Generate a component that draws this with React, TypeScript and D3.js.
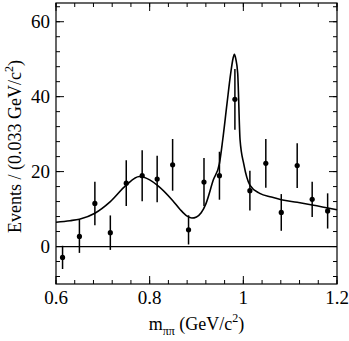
import React from 'react'
import { scaleLinear, line, curveMonotoneX, range } from 'd3'

// binned m(pi pi) spectrum
const mass = [0.614, 0.65, 0.683, 0.716, 0.75, 0.784, 0.816, 0.849, 0.883, 0.916, 0.949, 0.982, 1.014, 1.048, 1.081, 1.115, 1.147, 1.18]
const counts = [-2.9, 2.7, 11.5, 3.7, 16.9, 18.9, 18.0, 21.8, 4.45, 17.2, 18.9, 39.3, 14.9, 22.2, 9.1, 21.6, 12.6, 9.5]
const errors = [3.1, 4.4, 5.8, 4.6, 6.1, 6.8, 6.2, 6.9, 3.9, 6.4, 6.4, 8.1, 5.3, 6.5, 4.9, 6.0, 4.7, 4.7]

// fit curve
const fitMass = [0.6, 0.63, 0.65, 0.683, 0.716, 0.75, 0.778, 0.8, 0.816, 0.849, 0.865, 0.88, 0.89, 0.9, 0.91, 0.92, 0.936, 0.949, 0.956, 0.965, 0.973, 0.978, 0.981, 0.984, 0.988, 0.993, 1.001, 1.014, 1.035, 1.06, 1.081, 1.115, 1.147, 1.2]
const fitValue = [6.5, 6.9, 7.3, 8.9, 12, 16.4, 18.7, 17.8, 16.4, 12.3, 9.9, 8.1, 7.6, 7.9, 9.0, 11.4, 17.8, 22.2, 28.5, 38, 46.2, 50.2, 51.3, 50.0, 46.2, 28.5, 22.0, 16.4, 14.2, 13.2, 12.5, 11.8, 11.1, 9.8]

const xMajor = [0.6, 0.8, 1.0, 1.2]
const xLabels = ['0.6', '0.8', '1', '1.2']
const yMajor = [0, 20, 40, 60]

const W = 349
const H = 341
const left = 56
const right = 337
const top = 3
const bottom = 284
const font = '"Liberation Serif", "DejaVu Serif", serif'

const App = () => {
  const x = scaleLinear().domain([0.6, 1.2]).range([left, right])
  const y = scaleLinear().domain([-10, 65]).range([bottom, top])

  const xMinor = range(0, 16).map(i => 0.6 + i * 0.04)
  const yMinor = range(-8, 65, 4)

  const fitPath = line<number>()
    .x((d, i) => x(fitMass[i]))
    .y(d => y(d))
    .curve(curveMonotoneX)(fitValue)

  return (
    <svg width={W} height={H} style={{ position: 'absolute', left: 0, top: 0, background: '#fff' }}>
      {/* ticks */}
      <g stroke="#000" strokeWidth={1}>
        {xMinor.map(v => (
          <g key={'xm' + v}>
            <line x1={x(v)} x2={x(v)} y1={bottom} y2={bottom - 4} />
            <line x1={x(v)} x2={x(v)} y1={top} y2={top + 4} />
          </g>
        ))}
        {xMajor.map(v => (
          <g key={'xM' + v}>
            <line x1={x(v)} x2={x(v)} y1={bottom} y2={bottom - 8} />
            <line x1={x(v)} x2={x(v)} y1={top} y2={top + 8} />
          </g>
        ))}
        {yMinor.map(v => (
          <g key={'ym' + v}>
            <line x1={left} x2={left + 4} y1={y(v)} y2={y(v)} />
            <line x1={right} x2={right - 4} y1={y(v)} y2={y(v)} />
          </g>
        ))}
        {yMajor.map(v => (
          <g key={'yM' + v}>
            <line x1={left} x2={left + 8} y1={y(v)} y2={y(v)} />
            <line x1={right} x2={right - 8} y1={y(v)} y2={y(v)} />
          </g>
        ))}
      </g>

      {/* zero line */}
      <line x1={left} x2={right} y1={y(0)} y2={y(0)} stroke="#000" strokeWidth={1.3} />

      {/* fit */}
      <path d={fitPath || ''} fill="none" stroke="#000" strokeWidth={1.6} />

      {/* data */}
      <g>
        {mass.map((m, i) => (
          <g key={'p' + i}>
            <line
              x1={x(m)}
              x2={x(m)}
              y1={y(counts[i] - errors[i])}
              y2={y(counts[i] + errors[i])}
              stroke="#000"
              strokeWidth={1.5}
            />
            <circle cx={x(m)} cy={y(counts[i])} r={2.6} fill="#000" />
          </g>
        ))}
      </g>

      {/* frame */}
      <rect x={left} y={top} width={right - left} height={bottom - top} fill="none" stroke="#000" strokeWidth={1.2} />

      {/* tick labels */}
      <g fontFamily={font} fontSize={19} fill="#000">
        {xMajor.map((v, i) => (
          <text key={'xl' + v} x={x(v)} y={304} textAnchor="middle">
            {xLabels[i]}
          </text>
        ))}
        {yMajor.map(v => (
          <text key={'yl' + v} x={50} y={y(v) + 6.5} textAnchor="end">
            {v}
          </text>
        ))}
      </g>

      {/* axis titles */}
      <text x={(left + right) / 2} y={330} textAnchor="middle" fontFamily={font} fontSize={18}>
        m
        <tspan fontSize={12} dy={5}>ππ</tspan>
        <tspan dy={-5}> (GeV/c</tspan>
        <tspan fontSize={12} dy={-8}>2</tspan>
        <tspan dy={8}>)</tspan>
      </text>
      <text
        transform={`translate(21, ${(58 + 235) / 2}) rotate(-90)`}
        textAnchor="middle"
        fontFamily={font}
        fontSize={18}
      >
        Events / (0.033 GeV/c
        <tspan fontSize={12} dy={-8}>2</tspan>
        <tspan dy={8}>)</tspan>
      </text>
    </svg>
  )
}

export default App
